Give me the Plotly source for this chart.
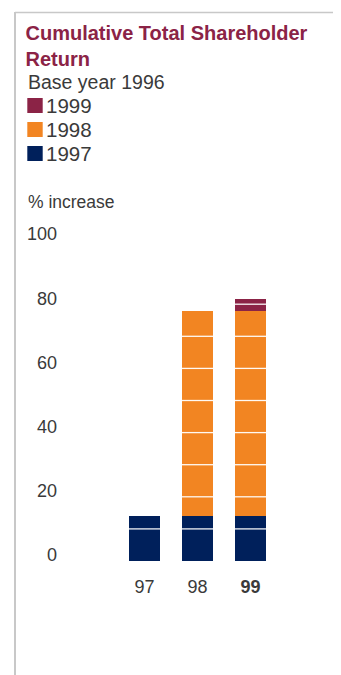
import plotly.graph_objects as go

# ---- data ----
years = ["97", "98", "99"]
tick_labels = ["97", "98", "<b>99</b>"]
series_names = ["1997", "1998", "1999"]
val_1997 = [14, 14, 14]
val_1998 = [0, 64, 64]
val_1999 = [0, 0, 3.5]
series_values = [val_1997, val_1998, val_1999]
series_colors = ["#00205B", "#F28522", "#8B2346"]
y_ticks = [0, 20, 40, 60, 80, 100]

# ---- layout geometry (screen pixels; page body has an 8px margin) ----
OFF = 8
SW, SH = 341, 675
W, H = SW - OFF, SH - OFF
Y0_S, Y100_S = 561, 240          # screen y of value 0 and 100
PLOT_L_S = 60                    # screen x of plot left edge
ML = PLOT_L_S - OFF
MR = 3
MT = Y100_S - OFF
MB = SH - Y0_S
PW, PH = W - ML - MR, H - MT - MB
BARGAP = 0.415
BAR_W = 1 - BARGAP
PX_PER_CAT = 53
X0_S = 144.5                     # screen x of first category centre

def sx(px):
    """screen x pixel -> paper x"""
    return (px - OFF - ML) / PW

def sy(py):
    """screen y pixel -> paper y"""
    return (SH - MB - py) / PH

FONT = "Liberation Sans, Arial, sans-serif"
TXT = "#3a3a3a"
xpos = list(range(len(years)))

fig = go.Figure()
for name, vals, col in zip(series_names, series_values, series_colors):
    fig.add_trace(go.Bar(
        x=xpos, y=vals, name=name, showlegend=False,
        marker=dict(color=col, line=dict(width=0)),
    ))

# white divider lines every 10 units across each bar (computed from data)
totals = [sum(v) for v in zip(*series_values)]
for i, tot in enumerate(totals):
    level = 10
    while level < tot:
        fig.add_shape(type="line", xref="x", yref="y",
                      x0=xpos[i] - BAR_W / 2, x1=xpos[i] + BAR_W / 2,
                      y0=level, y1=level,
                      line=dict(color="rgba(255,255,255,0.95)", width=1.3),
                      layer="above")
        level += 10

# frame lines (left and top)
fig.add_shape(type="line", xref="paper", yref="paper",
              x0=sx(15), x1=sx(15), y0=sy(12), y1=sy(SH + 2),
              line=dict(color="#c8c8c8", width=2))
fig.add_shape(type="line", xref="paper", yref="paper",
              x0=sx(15), x1=sx(SW + 2), y0=sy(12.5), y1=sy(12.5),
              line=dict(color="#c8c8c8", width=1.5))

# legend (title + swatches + labels), listed top-down as 1999, 1998, 1997
fig.add_annotation(text="Base year 1996", xref="paper", yref="paper",
                   x=sx(25.5), y=sy(82.5),
                   xanchor="left", yanchor="middle", showarrow=False,
                   font=dict(family=FONT, size=19.5, color=TXT))
leg_y = [105.5, 129.5, 153.5]
for k, idx in enumerate(reversed(range(len(series_names)))):
    yc = leg_y[k]
    fig.add_shape(type="rect", xref="paper", yref="paper",
                  x0=sx(27.3), x1=sx(42.7),
                  y0=sy(yc - 7.5), y1=sy(yc + 7.5),
                  fillcolor=series_colors[idx], line=dict(width=0))
    fig.add_annotation(text=series_names[idx], xref="paper", yref="paper",
                       x=sx(44), y=sy(yc),
                       xanchor="left", yanchor="middle", showarrow=False,
                       font=dict(family=FONT, size=20.5, color=TXT))

fig.add_annotation(text="% increase", xref="paper", yref="paper",
                   x=sx(25.5), y=sy(202),
                   xanchor="left", yanchor="middle", showarrow=False,
                   font=dict(family=FONT, size=17.5, color=TXT))

x_lo = -(X0_S - PLOT_L_S) / PX_PER_CAT
fig.update_layout(
    width=W, height=H,
    margin=dict(l=ML, r=MR, t=MT, b=MB),
    paper_bgcolor="white", plot_bgcolor="white",
    barmode="stack", bargap=BARGAP,
    showlegend=False,
    title=dict(text="Cumulative Total Shareholder<br>Return",
               x=(25.5 - OFF) / W, xanchor="left", xref="container",
               y=1 - 32 / H, yanchor="top", yref="container",
               font=dict(family=FONT, size=20, color="#8B2346", weight="bold")),
    xaxis=dict(
        range=[x_lo, x_lo + PW / PX_PER_CAT],
        tickvals=xpos, ticktext=tick_labels,
        showgrid=False, zeroline=False, showline=False, ticks="",
        tickfont=dict(family=FONT, size=18, color=TXT),
        ticklabelstandoff=13,
    ),
    yaxis=dict(
        range=[0, 100], tickvals=y_ticks,
        showgrid=False, zeroline=False, showline=False, ticks="",
        tickfont=dict(family=FONT, size=18, color=TXT),
        ticklabelshift=-6, ticklabelstandoff=2,
    ),
)

fig.write_html(
    "out.html",
    post_script="document.documentElement.style.overflow='hidden';"
                "document.body.style.overflow='hidden';",
)
